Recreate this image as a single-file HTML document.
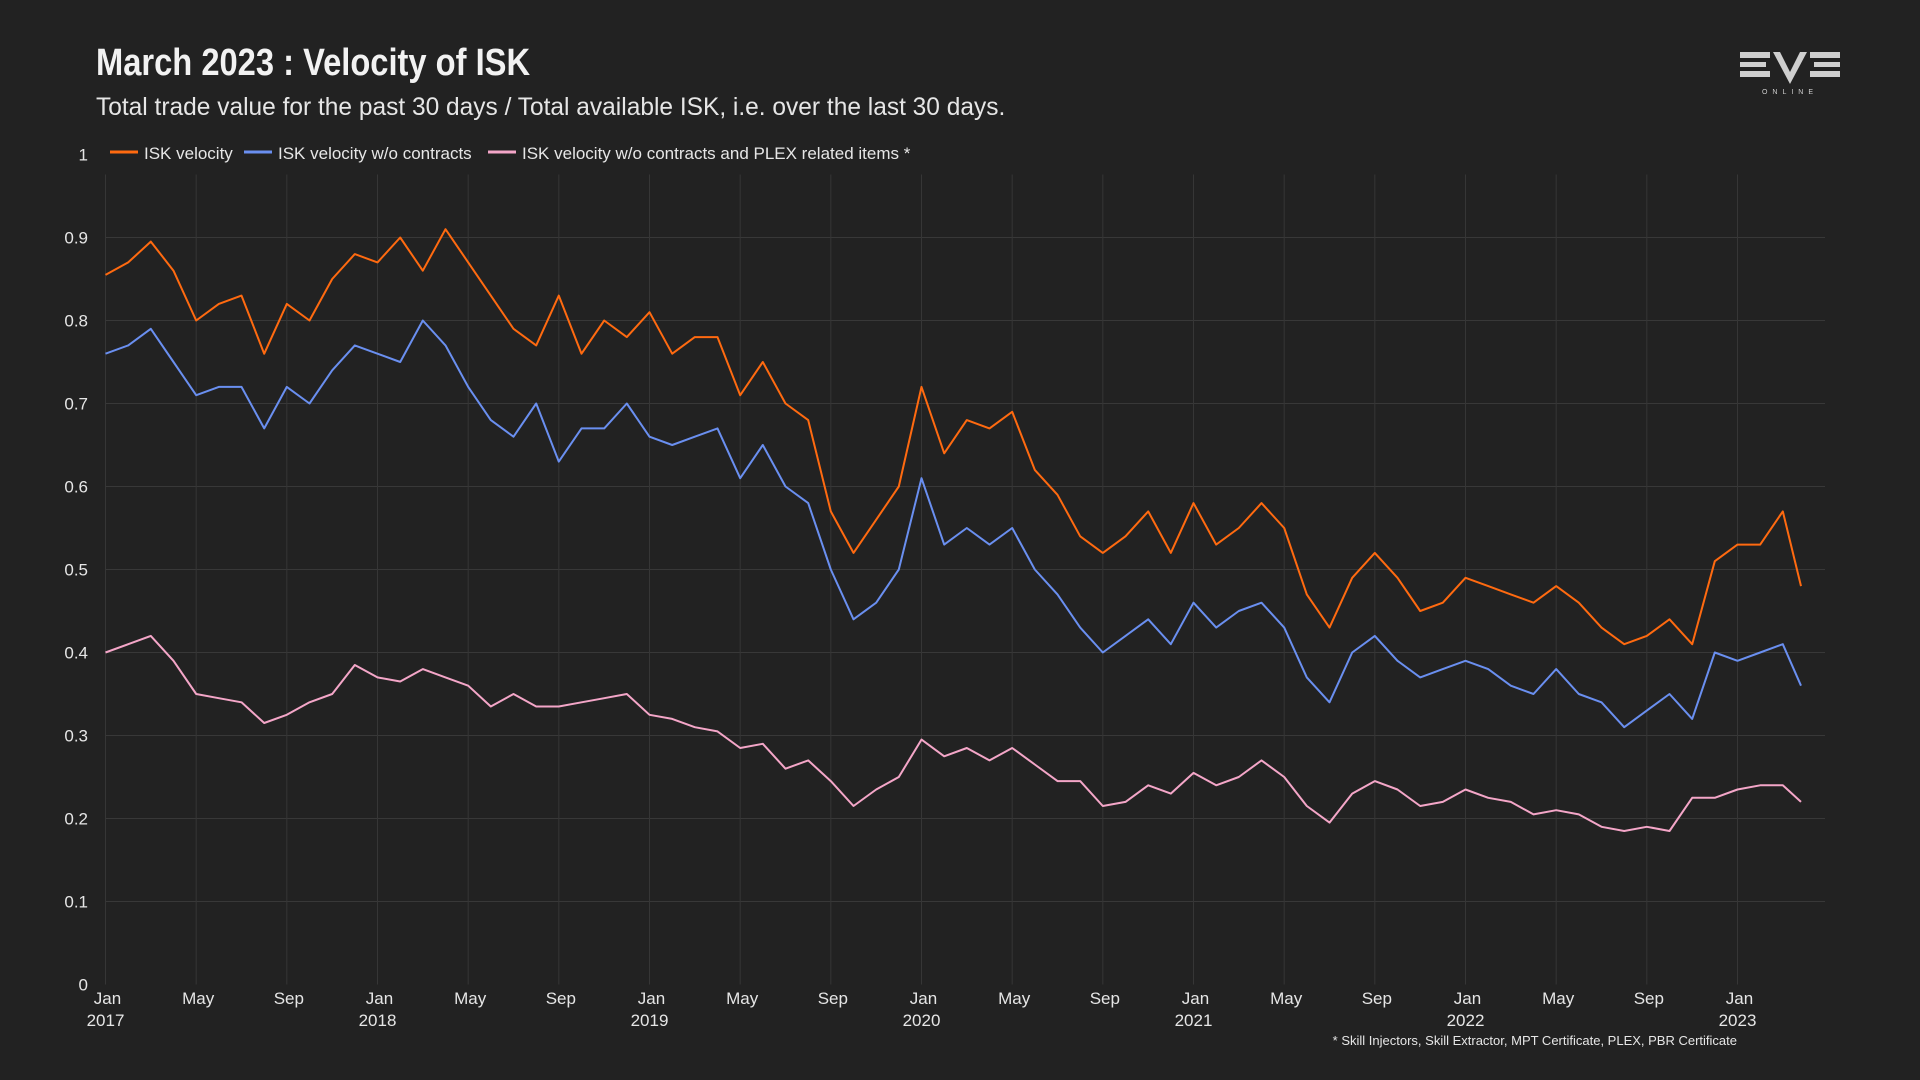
<!DOCTYPE html>
<html><head><meta charset="utf-8"><style>
html,body{margin:0;padding:0;background:#222222;width:1920px;height:1080px;overflow:hidden}
body{font-family:"Liberation Sans Narrow","Liberation Sans",sans-serif;color:#f2f2f2}
#title{position:absolute;left:96px;top:42px;font-size:38px;font-weight:bold;margin:0;transform:scaleX(0.86);transform-origin:left top;white-space:nowrap}
#subtitle{position:absolute;left:96px;top:93px;font-size:25px;color:#e6e6e6;margin:0;transform:scaleX(0.98);transform-origin:left top;white-space:nowrap}
#logo{position:absolute;left:1735px;top:48px}
svg#chart{position:absolute;left:0;top:0}
</style></head><body>
<h1 id="title">March 2023 : Velocity of ISK</h1>
<p id="subtitle">Total trade value for the past 30 days / Total available ISK, i.e. over the last 30 days.</p>
<svg id="logo" width="110" height="50" viewBox="0 0 110 50">
<g fill="#cfcfcf">
<rect x="5" y="4" width="30" height="6"/><rect x="5" y="14" width="26" height="5"/><rect x="5" y="23" width="30" height="6"/>
<polygon points="38,4 45,4 55,24 65,4 72,4 55,36"/>
<rect x="75" y="4" width="30" height="6"/><rect x="79" y="14" width="26" height="5"/><rect x="75" y="23" width="30" height="6"/>
</g>
<text x="55" y="46" fill="#cfcfcf" font-size="7" text-anchor="middle" letter-spacing="5" font-family="Liberation Sans, sans-serif">ONLINE</text>
</svg>
<svg id="chart" width="1920" height="1080" xmlns="http://www.w3.org/2000/svg"></svg>
<script>
const months=[0,1,2,3,4,5,6,7,8,9,10,11,12,13,14,15,16,17,18,19,20,21,22,23,24,25,26,27,28,29,30,31,32,33,34,35,36,37,38,39,40,41,42,43,44,45,46,47,48,49,50,51,52,53,54,55,56,57,58,59,60,61,62,63,64,65,66,67,68,69,70,71,72,73,74,74.8];
const iskVelocity=[0.855,0.87,0.895,0.86,0.80,0.82,0.83,0.76,0.82,0.80,0.85,0.88,0.87,0.90,0.86,0.91,0.87,0.83,0.79,0.77,0.83,0.76,0.80,0.78,0.81,0.76,0.78,0.78,0.71,0.75,0.70,0.68,0.57,0.52,0.56,0.60,0.72,0.64,0.68,0.67,0.69,0.62,0.59,0.54,0.52,0.54,0.57,0.52,0.58,0.53,0.55,0.58,0.55,0.47,0.43,0.49,0.52,0.49,0.45,0.46,0.49,0.48,0.47,0.46,0.48,0.46,0.43,0.41,0.42,0.44,0.41,0.51,0.53,0.53,0.57,0.48];
const iskNoContracts=[0.76,0.77,0.79,0.75,0.71,0.72,0.72,0.67,0.72,0.70,0.74,0.77,0.76,0.75,0.80,0.77,0.72,0.68,0.66,0.70,0.63,0.67,0.67,0.70,0.66,0.65,0.66,0.67,0.61,0.65,0.60,0.58,0.50,0.44,0.46,0.50,0.61,0.53,0.55,0.53,0.55,0.50,0.47,0.43,0.40,0.42,0.44,0.41,0.46,0.43,0.45,0.46,0.43,0.37,0.34,0.40,0.42,0.39,0.37,0.38,0.39,0.38,0.36,0.35,0.38,0.35,0.34,0.31,0.33,0.35,0.32,0.40,0.39,0.40,0.41,0.36];
const iskNoPlex=[0.40,0.41,0.42,0.39,0.35,0.345,0.34,0.315,0.325,0.34,0.35,0.385,0.37,0.365,0.38,0.37,0.36,0.335,0.35,0.335,0.335,0.34,0.345,0.35,0.325,0.32,0.31,0.305,0.285,0.29,0.26,0.27,0.245,0.215,0.235,0.25,0.295,0.275,0.285,0.27,0.285,0.265,0.245,0.245,0.215,0.22,0.24,0.23,0.255,0.24,0.25,0.27,0.25,0.215,0.195,0.23,0.245,0.235,0.215,0.22,0.235,0.225,0.22,0.205,0.21,0.205,0.19,0.185,0.19,0.185,0.225,0.225,0.235,0.24,0.24,0.22];
const yTicks=[0,0.1,0.2,0.3,0.4,0.5,0.6,0.7,0.8,0.9,1];
const xTickMonths=[0,4,8,12,16,20,24,28,32,36,40,44,48,52,56,60,64,68,72];
const xTickLabels=["Jan","May","Sep","Jan","May","Sep","Jan","May","Sep","Jan","May","Sep","Jan","May","Sep","Jan","May","Sep","Jan"];
const yearLabels=["2017","2018","2019","2020","2021","2022","2023"];

const NS="http://www.w3.org/2000/svg";
const svg=document.getElementById('chart');
const X0=105.5,X1=1737.5,Y0=984.5,Y1=154.5,XR=1825;
const xs=m=>X0+(X1-X0)*m/72;
const ys=v=>Y0+(Y1-Y0)*v;
function el(t,a){const e=document.createElementNS(NS,t);for(const k in a)e.setAttribute(k,a[k]);svg.appendChild(e);return e;}

yTicks.forEach((v,i)=>{
  if(v>0&&v<1){const g=el('line',{x1:X0,x2:XR,y1:ys(v),y2:ys(v),stroke:'#383838','stroke-width':1});
  
  }
  const t=el('text',{x:88,y:ys(v)+6,fill:'#e6e6e6','font-size':17,'text-anchor':'end'});
  t.textContent=String(v);
  
  
});
xTickMonths.forEach((m,i)=>{
  const g=el('line',{x1:xs(m),x2:xs(m),y1:Y1+20,y2:Y0,stroke:'#363636','stroke-width':1});
  
  
  const t=el('text',{x:xs(m)+2,y:1004,fill:'#e6e6e6','font-size':17,'text-anchor':'middle'});
  t.textContent=xTickLabels[i];
  
  
});
yearLabels.forEach((y,i)=>{
  const t=el('text',{x:xs(i*12),y:1026,fill:'#e6e6e6','font-size':17,'text-anchor':'middle'});
  t.textContent=y;
  
  
});
const series=[[iskNoPlex,'#f4a6c8','series-plex'],[iskNoContracts,'#6a8ff0','series-no-contracts'],[iskVelocity,'#ff6a10','series-isk-velocity']];
series.forEach(([d,c,n])=>{
  const p=el('path',{d:d.map((v,i)=>(i?'L':'M')+xs(months[i]).toFixed(1)+','+ys(v).toFixed(1)).join(''),fill:'none',stroke:c,'stroke-width':2,'stroke-linejoin':'round'});
  
  
});
const legend=[['ISK velocity','#ff6a10',110],['ISK velocity w/o contracts','#6a8ff0',244],['ISK velocity w/o contracts and PLEX related items *','#f4a6c8',488]];
legend.forEach(([txt,c,x])=>{
  const l=el('line',{x1:x,x2:x+28,y1:152,y2:152,stroke:c,'stroke-width':3});
  
  
  const t=el('text',{x:x+34,y:159,fill:'#e6e6e6','font-size':17});
  t.textContent=txt;
  
  
});
const f=el('text',{x:1737,y:1045,fill:'#e6e6e6','font-size':13,'text-anchor':'end'});
f.textContent='* Skill Injectors, Skill Extractor, MPT Certificate, PLEX, PBR Certificate';


</script>
</body></html>
